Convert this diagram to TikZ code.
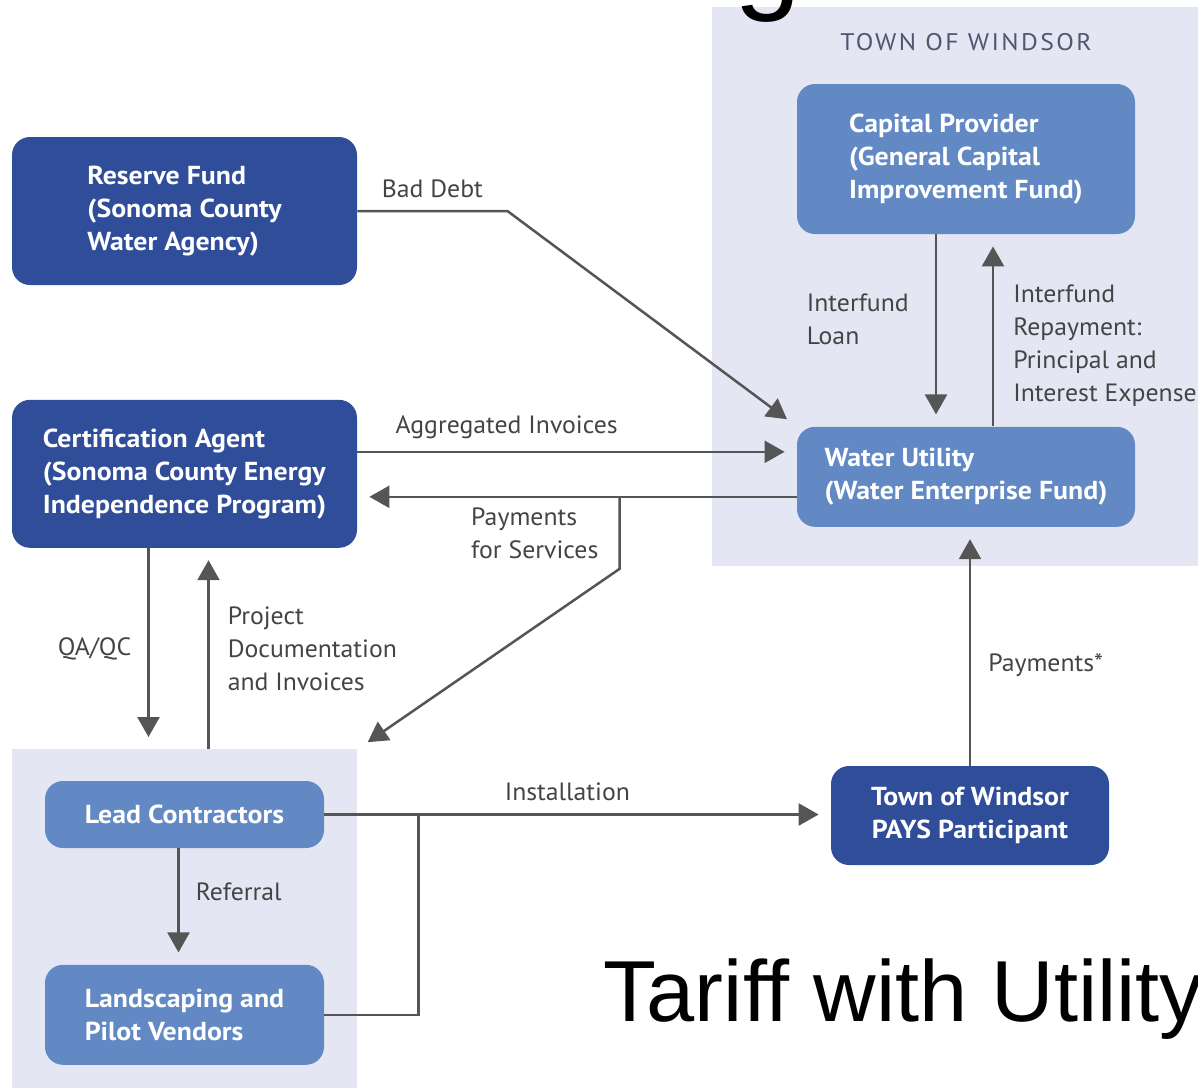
\documentclass[tikz,border=0pt]{standalone}
\usepackage{fontspec}
\setsansfont{PT Sans}
\newfontfamily\boxfont[FakeStretch=1.07]{PT Sans}
\newfontfamily\labelfont[FakeStretch=1.03]{PT Sans}
\newfontfamily\townfont[FakeStretch=1.07, LetterSpace=10]{PT Sans}
\newfontfamily\titlefont{Liberation Sans}
\usetikzlibrary{
  arrows.meta,
  positioning,
}
\definecolor{darkbox}{HTML}{304D99}
\definecolor{midbox}{HTML}{6289C4}
\definecolor{groupbg}{HTML}{E4E7F3}
\definecolor{flowgray}{HTML}{555555}
\definecolor{labelgray}{HTML}{444444}
\definecolor{towngray}{HTML}{4F5670}
\tikzset{
  fundbox/.style={rounded corners=9pt, text=white, align=left, inner sep=0pt,
    font=\boxfont\bfseries\fontsize{13}{16.5}\selectfont},
  darkfund/.style={fundbox, fill=darkbox, minimum width=172.5pt, minimum height=74pt},
  midfund/.style={fundbox, fill=midbox, minimum width=169pt},
  smallfund/.style={fundbox, fill=midbox, minimum width=139.5pt},
  groupbox/.style={fill=groupbg, inner sep=0pt, anchor=north west},
  flow/.style={draw=flowgray, line width=1.25pt, -{Triangle[length=10pt, width=11pt]}, shorten >=6pt},
  line/.style={draw=flowgray, line width=1.25pt},
  flowlabel/.style={font=\labelfont\fontsize{12.5}{16.5}\selectfont, text=labelgray, inner sep=2pt},
}
\begin{document}
\begin{tikzpicture}[x=0.5pt, y=-0.5pt]
      \useasboundingbox (0,0) rectangle (1198,1088);
      \clip (0,0) rectangle (1198,1088);
      % group backgrounds
      \node [groupbox, minimum width=243pt, minimum height=279.5pt] (town) at (712,7) {};
      \node [groupbox, minimum width=172.5pt, minimum height=169.5pt] (leftgrp) at (12,749) {};
      \node [anchor=base west, inner sep=0pt, font=\titlefont\fontsize{60}{70}\selectfont] (heading) at (734,-3) {g};
      % boxes
      \node [darkfund] (reserve) at (184.5,211) {Reserve Fund\\(Sonoma County\\Water Agency)};
      \node [darkfund, below=57pt of reserve] (cert) {Certification Agent\\(Sonoma County Energy\\Independence Program)};
      \node [midfund, minimum height=75pt] (capital) at (966,159) {Capital Provider\\(General Capital\\Improvement Fund)};
      \node [midfund, minimum height=50pt, below=96pt of capital] (water) {Water Utility\\(Water Enterprise Fund)};
      \node [font=\townfont\fontsize{12}{14}\selectfont, text=towngray, above=13pt of capital] (townname) {TOWN OF WINDSOR};
      \node [smallfund, minimum height=33.5pt] (lead) at (184.5,814.5) {Lead Contractors};
      \node [smallfund, minimum height=50pt, below=58pt of lead] (land) {Landscaping and\\Pilot Vendors};
      \node [darkfund, minimum width=139pt, minimum height=49.5pt, align=center] (pays) at (970,815.5) {Town of Windsor\\PAYS Participant};
      \node [anchor=base west, inner sep=0pt, font=\titlefont\fontsize{43.3}{50}\selectfont] (tariff) at (603,1021) {Tariff with Utility};
      % flows
      \draw [flow] (reserve.east) -- ++(150,0) node [flowlabel, midway, above=4pt] {Bad Debt} -- (water.north west);
      \draw [flow] ([yshift=11pt]cert.east) -- ([yshift=11pt]cert.east -| water.west)
        node [flowlabel, pos=0.34, above=4pt] {Aggregated Invoices};
      \draw [flow] ([yshift=-10pt]water.west) -- ([yshift=-10pt]water.west -| cert.east);
      \path ([yshift=-10pt]water.west) -- ++(-177,0) coordinate (split);
      \draw [flow] (split) -- ++(0,72) node [flowlabel, midway, left=8pt, align=left] {Payments\\for Services}
        -- (leftgrp.north east);
      \draw [flow] ([xshift=-18pt]cert.south) -- ([xshift=-18pt]cert.south |- leftgrp.north)
        node [flowlabel, midway, left=6pt] {QA/QC};
      \draw [flow] ([xshift=12pt]cert.south |- leftgrp.north) -- ([xshift=12pt]cert.south)
        node [flowlabel, midway, right=7pt, align=left] {Project\\Documentation\\and Invoices};
      \draw [flow] ([xshift=-15pt]capital.south) -- ([xshift=-15pt]capital.south |- water.north)
        node [flowlabel, pos=0.44, left=11pt, align=left] {Interfund\\Loan};
      \draw [flow] ([xshift=13.5pt]water.north) -- ([xshift=13.5pt]water.north |- capital.south)
        node [flowlabel, pos=0.42, right=7.5pt, align=left] {Interfund\\Repayment:\\Principal and\\Interest Expense};
      \draw [flow] (pays.north) -- (pays.north |- water.south) node [flowlabel, pos=0.42, right=6.5pt] {Payments*};
      \draw [flow] (lead.east) -- (lead.east -| pays.west) node [flowlabel, pos=0.48, above=4pt] {Installation};
      \path (lead.east) -- ++(94,0) coordinate (merge);
      \draw [line] (land.east) -| (merge);
      \draw [flow] ([xshift=-3pt]lead.south) -- ([xshift=-3pt]lead.south |- land.north)
        node [flowlabel, pos=0.37, right=6pt] {Referral};
    \end{tikzpicture}
\end{document}
